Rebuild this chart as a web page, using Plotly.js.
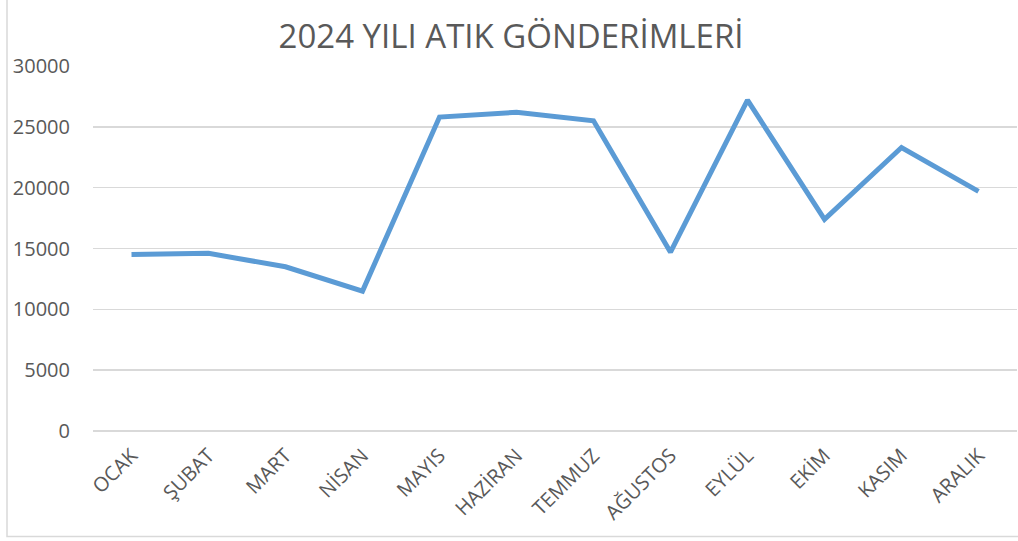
<!DOCTYPE html>
<html>
<head>
<meta charset="utf-8">
<script src="https://cdn.plot.ly/plotly-3.0.1.min.js"></script>
<style>html,body{margin:0;padding:0;background:#fff;overflow:hidden}</style>
</head>
<body>
<div id="chart" style="width:1018px;height:541px"></div>
<script>
const months = ["OCAK","ŞUBAT","MART","NİSAN","MAYIS","HAZİRAN","TEMMUZ","AĞUSTOS","EYLÜL","EKİM","KASIM","ARALIK"];
const shipments = [14500,14600,13500,11500,25800,26200,25500,14700,27200,17400,23300,19700];
const yTicks = [0,5000,10000,15000,20000,25000,30000];
const chartTitle = "2024 YILI ATIK GÖNDERİMLERİ";

const trace = {
  x: months,
  y: shipments,
  type: "scatter",
  mode: "lines",
  line: {color: "#5b9bd5", width: 5},
  hoverinfo: "x+y"
};

const layout = {
  width: 1018,
  height: 541,
  margin: {l: 93, r: 1, t: 66, b: 110},
  paper_bgcolor: "#ffffff",
  plot_bgcolor: "#ffffff",
  showlegend: false,
  font: {family: "Open Sans, sans-serif", color: "#595959"},
  title: {
    text: chartTitle,
    font: {family: "Open Sans, sans-serif", size: 33, color: "#595959"},
    x: 0.502, xref: "container", xanchor: "center",
    y: 0.932, yref: "container", yanchor: "middle"
  },
  xaxis: {
    type: "category",
    range: [-0.5, 11.5],
    tickangle: -45,
    tickfont: {size: 20, color: "#595959"},
    showgrid: false,
    showline: false,
    zeroline: false,
    ticks: "",
    ticklabelstandoff: 8,
    fixedrange: true
  },
  yaxis: {
    range: [0, 30000],
    tickvals: yTicks,
    ticktext: yTicks.map(String),
    tickfont: {size: 20, color: "#595959"},
    showgrid: true,
    gridcolor: "#d9d9d9",
    gridwidth: 1.5,
    zeroline: true,
    zerolinecolor: "#d9d9d9",
    zerolinewidth: 1.5,
    showline: false,
    ticks: "",
    ticklabelstandoff: 22,
    fixedrange: true
  },
  shapes: [{
    type: "rect",
    xref: "paper", yref: "paper",
    x0: (7 - 93) / 924, x1: (1030 - 93) / 924,
    y0: (431.3 - 537) / 365.6, y1: (431.3 + 10) / 365.6,
    line: {color: "#d9d9d9", width: 1.5},
    fillcolor: "rgba(0,0,0,0)",
    layer: "below"
  }]
};

Plotly.newPlot("chart", [trace], layout, {displayModeBar: false, staticPlot: true});
</script>
</body>
</html>
